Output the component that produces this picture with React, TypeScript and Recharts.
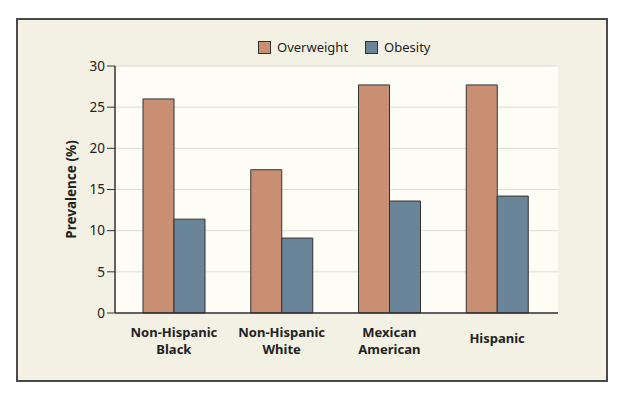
import React from "react";
import { BarChart, Bar, XAxis, YAxis, CartesianGrid } from "recharts";

const categories = ["Non-Hispanic\nBlack", "Non-Hispanic\nWhite", "Mexican\nAmerican", "Hispanic"];
const overweight = [26.0, 17.4, 27.7, 27.7];
const obesity = [11.4, 9.1, 13.6, 14.2];
const yTicks = [0, 5, 10, 15, 20, 25, 30];

const data = categories.map((c, i) => ({ name: c, Overweight: overweight[i], Obesity: obesity[i] }));

const FONT = "'Noto Sans', sans-serif";
const OW_COLOR = "#c98f72";
const OB_COLOR = "#6a8499";

const XTick = (props: any) => {
  const { x, y, payload } = props;
  const lines: string[] = String(payload.value).split("\n");
  const lh = 17;
  const startY = lines.length === 1 ? y + 22 : y + 16;
  return (
    <g>
      {lines.map((l, i) => (
        <text key={i} x={x} y={startY + i * lh} textAnchor="middle" fontFamily={FONT} fontSize={13} fontWeight="bold" fill="#222">
          {l}
        </text>
      ))}
    </g>
  );
};

const legendItems = [{ n: "Overweight", c: OW_COLOR }, { n: "Obesity", c: OB_COLOR }];

export default function App() {
  return (
    <div style={{ position: "fixed", left: 0, top: 0, width: 623, height: 397, background: "#fff" }}>
      <div style={{ position: "absolute", left: 16, top: 18, width: 588, height: 360, background: "#f3f1e4", border: "2px solid #4a4a4a" }} />
      <div style={{ position: "absolute", left: 258, top: 38, display: "flex", fontFamily: FONT, fontSize: 13, color: "#222" }}>
        {legendItems.map((it, i) => (
          <div key={i} style={{ display: "flex", alignItems: "center", marginRight: i === 0 ? 17 : 0 }}>
            <span style={{ display: "inline-block", width: 11, height: 11, background: it.c, border: "1px solid #333", marginRight: 6 }} />
            <span>{it.n}</span>
          </div>
        ))}
      </div>
      <div style={{ position: "absolute", left: 0, top: 0 }}>
        <BarChart width={623} height={397} data={data} margin={{ top: 66, right: 65, left: 0, bottom: 0 }} barGap={0} barSize={31}>
          <CartesianGrid vertical={false} stroke="#dcdcd4" fill="#fdfcf5" />
          <XAxis
            dataKey="name"
            height={84}
            tickLine={false}
            axisLine={{ stroke: "#333", strokeWidth: 1.5 }}
            tick={<XTick />}
            padding={{ left: 5, right: 7 }}
            interval={0}
          />
          <YAxis
            width={115}
            domain={[0, 30]}
            ticks={yTicks}
            tickSize={8}
            tickMargin={2}
            tickLine={{ stroke: "#333" }}
            axisLine={{ stroke: "#333", strokeWidth: 1.5 }}
            tick={{ fontFamily: FONT, fontSize: 13.5, fill: "#222" }}
            label={{ value: "Prevalence (%)", angle: -90, position: "insideLeft", offset: 0, dx: 71, style: { fontFamily: FONT, fontSize: 13.5, fontWeight: "bold", fill: "#222", textAnchor: "middle" } }}
          />
          <Bar dataKey="Overweight" fill={OW_COLOR} stroke="#333" strokeWidth={1} isAnimationActive={false} />
          <Bar dataKey="Obesity" fill={OB_COLOR} stroke="#333" strokeWidth={1} isAnimationActive={false} />
        </BarChart>
      </div>
    </div>
  );
}
